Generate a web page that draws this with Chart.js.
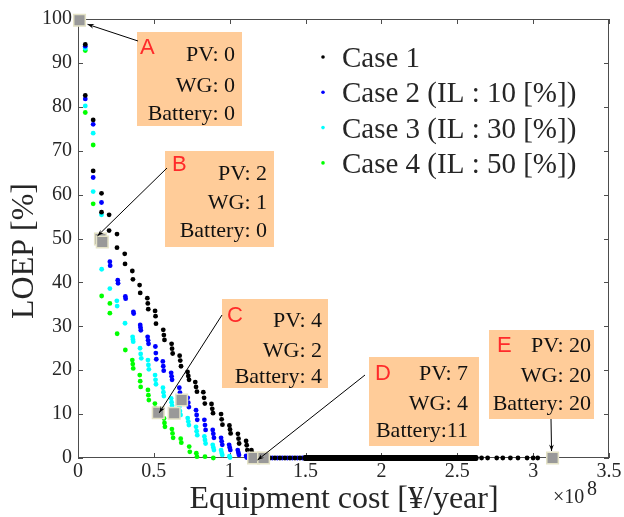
<!DOCTYPE html>
<html>
<head>
<meta charset="utf-8">
<script src="https://cdn.jsdelivr.net/npm/chart.js@4.4.0/dist/chart.umd.min.js"></script>
<style>
  html, body { margin: 0; padding: 0; background: #fff; }
</style>
</head>
<body>
<canvas id="loep-chart" width="624" height="517"></canvas>
<script>
// equipment cost is in units of 1e8 yen/year, LOEP in %
const case1Cost = [0, 0.048, 0.048, 0.100, 0.100, 0.155, 0.155, 0.205, 0.205, 0.257, 0.257, 0.308, 0.310,
  0.358, 0.362, 0.406, 0.410, 0.457, 0.460, 0.463, 0.508, 0.511, 0.514, 0.562, 0.566, 0.570, 0.617, 0.620,
  0.624, 0.670, 0.674, 0.679, 0.722, 0.727, 0.732, 0.773, 0.778, 0.784, 0.826, 0.831, 0.836, 0.880, 0.885,
  0.890, 0.943, 0.947, 0.952, 0.998, 1.002, 1.006, 1.054, 1.058, 1.062, 1.108, 1.112, 1.116, 1.143, 1.147, 1.151];
const case1Loep = [100, 94.2, 82.6, 77.0, 65.4, 60.3, 56.0, 55.4, 51.8, 51.0, 47.9, 46.5, 44.2,
  42.6, 40.7, 39.4, 37.6, 36.4, 35.2, 33.9, 33.5, 32.3, 30.6, 29.2, 28.0, 26.9, 26.0, 24.9,
  23.8, 23.3, 22.2, 20.9, 19.6, 18.7, 17.8, 17.3, 16.2, 15.1, 15.0, 13.7, 12.4, 12.3, 11.2,
  10.2, 10.0, 8.8, 7.6, 7.4, 6.5, 5.6, 5.5, 4.4, 3.3, 3.9, 2.9, 1.8, 1.8, 1.2, 0.6];
// costs of the Case 1 configurations whose LOEP is 0: scattered ones, then the dense run
const case1ZeroCost = [1.175, 1.205, 1.265, 1.298, 1.331, 1.364, 1.397, 1.430, 1.463,
  2.660, 2.700, 2.760, 2.800, 2.850, 2.900, 2.960, 3.000, 3.030];
const case1ZeroDenseCost = [1.50, 1.52, 1.54, 1.56, 1.58, 1.60, 1.62, 1.64, 1.66, 1.68, 1.70, 1.72, 1.74,
  1.76, 1.78, 1.80, 1.82, 1.84, 1.86, 1.88, 1.90, 1.92, 1.94, 1.96, 1.98, 2.00, 2.02, 2.04, 2.06, 2.08,
  2.10, 2.12, 2.14, 2.16, 2.18, 2.20, 2.22, 2.24, 2.26, 2.28, 2.30, 2.32, 2.34, 2.36, 2.38, 2.40, 2.42,
  2.44, 2.46, 2.48, 2.50, 2.52, 2.54, 2.56, 2.58, 2.60, 2.62];

const case2Cost = [0, 0.048, 0.048, 0.100, 0.100, 0.155, 0.210, 0.212, 0.262, 0.264, 0.312, 0.314, 0.365,
  0.367, 0.410, 0.412, 0.414, 0.459, 0.462, 0.465, 0.510, 0.513, 0.516, 0.559, 0.562, 0.565, 0.614, 0.617,
  0.620, 0.668, 0.672, 0.676, 0.723, 0.727, 0.731, 0.778, 0.782, 0.786, 0.833, 0.837, 0.841, 0.888, 0.892,
  0.896, 0.943, 0.947, 0.951, 0.996, 1.000, 1.004, 1.053, 1.057, 1.061, 1.108, 1.112];
const case2Loep = [100, 93.8, 81.8, 76.0, 63.9, 58.2, 44.7, 43.8, 40.5, 39.8, 36.8, 36.3, 33.3,
  32.9, 30.3, 29.7, 29.1, 27.6, 26.8, 26.0, 25.4, 23.9, 22.5, 22.0, 20.9, 19.9, 19.4, 18.6,
  17.8, 16.0, 14.9, 13.9, 13.7, 12.6, 11.6, 10.9, 9.8, 8.7, 8.7, 7.5, 6.4, 6.4, 5.5,
  4.6, 4.6, 3.8, 3.0, 3.0, 2.4, 1.8, 1.8, 1.2, 0.7, 0.5, 0.1];
const case2ZeroCost = [1.165, 1.200, 1.248, 1.281, 1.314, 1.347, 1.380, 1.413, 1.446, 1.479];

const case3Cost = [0, 0.048, 0.048, 0.100, 0.100, 0.155, 0.156, 0.210, 0.256, 0.258, 0.310, 0.360, 0.362,
  0.364, 0.409, 0.413, 0.417, 0.461, 0.464, 0.467, 0.508, 0.511, 0.514, 0.560, 0.563, 0.566, 0.614, 0.617,
  0.620, 0.668, 0.672, 0.676, 0.723, 0.727, 0.731, 0.778, 0.782, 0.786, 0.833, 0.837, 0.841, 0.888, 0.892,
  0.896, 0.943, 0.947, 0.951, 0.998, 1.002];
const case3Loep = [100, 93.3, 80.2, 74.0, 60.7, 55.4, 43.0, 38.6, 35.8, 34.6, 30.7, 27.6, 27.0,
  26.5, 25.0, 23.7, 22.7, 22.3, 21.2, 20.2, 18.9, 17.8, 16.8, 16.0, 15.0, 14.1, 13.6, 12.7,
  11.9, 11.7, 10.7, 9.8, 9.1, 8.3, 7.5, 7.1, 6.1, 5.2, 4.9, 4.1, 3.3, 3.0, 2.4,
  1.8, 1.8, 1.2, 0.7, 0.4, 0.1];

const case4Cost = [0, 0.048, 0.048, 0.100, 0.100, 0.156, 0.210, 0.210, 0.258, 0.312, 0.358, 0.361, 0.364,
  0.407, 0.410, 0.413, 0.461, 0.464, 0.467, 0.507, 0.510, 0.513, 0.567, 0.570, 0.573, 0.619, 0.623, 0.627,
  0.677, 0.681, 0.733, 0.737, 0.780, 0.784, 0.837, 0.892];
const case4Loep = [100, 92.8, 78.7, 71.3, 57.9, 36.9, 35.2, 33.0, 28.3, 24.6, 22.3, 21.4, 20.4,
  18.9, 17.5, 16.2, 15.5, 14.3, 13.2, 12.4, 11.3, 10.2, 9.0, 8.0, 7.1, 6.6, 5.6, 4.6,
  4.4, 3.5, 2.6, 1.4, 1.1, 0.3, 0.3, 0.0];

const seriesLabels = ['Case 1', 'Case 2 (IL : 10 [%])', 'Case 3 (IL : 30 [%])', 'Case 4 (IL : 50 [%])'];

// highlighted configurations (grey squares)
const markerCost = [0.01, 0.148, 0.160, 0.529, 0.634, 0.683, 1.157, 1.223, 3.128];
const markerLoep = [99.7, 49.9, 49.2, 10.3, 10.2, 13.2, 0, 0, 0];

// callouts
const calloutLetters = ['A', 'B', 'C', 'D', 'E'];
const pvLabels = ['PV: 0', 'PV: 2', 'PV: 4', 'PV: 7', 'PV: 20'];
const wgLabels = ['WG: 0', 'WG: 1', 'WG: 2', 'WG: 4', 'WG: 20'];
const batteryLabels = ['Battery: 0', 'Battery: 0', 'Battery: 4', 'Battery:11', 'Battery: 20'];
const calloutMarker = [0, 1, 3, 7, 8];

const costTickLabels = ['0', '0.5', '1', '1.5', '2', '2.5', '3', '3.5'];
const loepTickLabels = ['0', '10', '20', '30', '40', '50', '60', '70', '80', '90', '100'];

// layout of the callout boxes, in pixels
const boxLayout = [
  { x: 137, y: 32, w: 105, h: 94, lx: 140, lb: 54, tr: 235, base: [61, 92, 120], tail: [138, 41], off: [8, 4] },
  { x: 165, y: 151, w: 109, h: 96, lx: 172, lb: 171, tr: 267, base: [180, 209, 237], tail: [167, 168], off: [-3, -3] },
  { x: 222, y: 299, w: 106, h: 89, lx: 227, lb: 322, tr: 322, base: [327, 357, 383], tail: [222, 315], off: [1, 0] },
  { x: 369, y: 357, w: 110, h: 89, lx: 375, lb: 380, tr: 468, base: [380, 410, 437], tail: [365, 375], off: [-6, 2] },
  { x: 489, y: 330, w: 105, h: 89, lx: 497, lb: 352, tr: 591, base: [352, 382, 410], tail: [551, 419], off: [-1, -7] }
];

const SERIF = "'Liberation Serif', 'Times New Roman', serif";
const INK = '#262626';
const AXIS = '#4d4d4d';
const COLORS = ['#000000', '#0000ff', '#00ffff', '#00ff00'];

const points = (xs, ys) => xs.map((x, i) => ({ x: x, y: ys[i] }));
const zeros = (xs) => xs.map((x) => ({ x: x, y: 0 }));

function dotSet(label, data, color, order) {
  return { label: label, data: data, order: order, clip: false, pointStyle: 'circle', pointRadius: 2.4,
    pointBorderWidth: 0, backgroundColor: color, borderColor: color, showLine: false };
}

function drawArrow(ctx, x0, y0, x1, y1) {
  const ang = Math.atan2(y1 - y0, x1 - x0);
  ctx.beginPath();
  ctx.moveTo(x0, y0);
  ctx.lineTo(x1, y1);
  ctx.stroke();
  const len = 7, spread = 0.35;
  ctx.beginPath();
  ctx.moveTo(x1, y1);
  ctx.lineTo(x1 - len * Math.cos(ang - spread), y1 - len * Math.sin(ang - spread));
  ctx.lineTo(x1 - len * 0.6 * Math.cos(ang), y1 - len * 0.6 * Math.sin(ang));
  ctx.lineTo(x1 - len * Math.cos(ang + spread), y1 - len * Math.sin(ang + spread));
  ctx.closePath();
  ctx.fill();
}

const framePlugin = {
  id: 'frame',
  beforeDatasetsDraw(chart) {
    const { ctx, chartArea: a, scales: { x, y } } = chart;
    ctx.save();
    ctx.strokeStyle = AXIS;
    ctx.lineWidth = 1;
    ctx.strokeRect(a.left + 0.5, a.top + 0.5, a.right - a.left - 1, a.bottom - a.top - 1);
    ctx.beginPath();
    x.ticks.forEach((t) => {
      const px = Math.round(x.getPixelForValue(t.value)) + 0.5;
      ctx.moveTo(px, a.bottom); ctx.lineTo(px, a.bottom - 5);
      ctx.moveTo(px, a.top); ctx.lineTo(px, a.top + 5);
    });
    y.ticks.forEach((t) => {
      const py = Math.round(y.getPixelForValue(t.value)) + 0.5;
      ctx.moveTo(a.left, py); ctx.lineTo(a.left + 5, py);
      ctx.moveTo(a.right, py); ctx.lineTo(a.right - 5, py);
    });
    ctx.stroke();
    ctx.restore();
  },
  afterDraw(chart) {
    const { ctx, scales: { x, y } } = chart;
    ctx.save();
    ctx.fillStyle = INK;

    // axis titles
    ctx.font = '32px ' + SERIF;
    ctx.textAlign = 'center';
    ctx.textBaseline = 'alphabetic';
    ctx.fillText('Equipment cost [¥/year]', 344, 508);
    ctx.save();
    ctx.translate(33, 251);
    ctx.rotate(-Math.PI / 2);
    ctx.fillText('LOEP [%]', 0, 0);
    ctx.restore();

    // exponent of the cost axis
    ctx.textAlign = 'left';
    ctx.font = '20px ' + SERIF;
    ctx.fillText('×10', 553, 503);
    ctx.fillText('8', 587, 495);

    // legend
    ctx.font = '29px ' + SERIF;
    seriesLabels.forEach((label, i) => {
      const base = 67 + i * 35.3;
      ctx.fillStyle = COLORS[i];
      ctx.beginPath();
      ctx.arc(323, base - 10, 1.8, 0, Math.PI * 2);
      ctx.fill();
      ctx.fillStyle = INK;
      ctx.fillText(label, 342, base);
    });

    // callout boxes with arrows
    boxLayout.forEach((b, i) => {
      ctx.fillStyle = '#ffcc99';
      ctx.fillRect(b.x, b.y, b.w, b.h);
      ctx.fillStyle = '#ff2a2a';
      ctx.textAlign = 'left';
      ctx.font = '22px "Liberation Sans", Arial, sans-serif';
      ctx.fillText(calloutLetters[i], b.lx, b.lb);
      ctx.fillStyle = '#111';
      ctx.textAlign = 'right';
      ctx.font = '22px ' + SERIF;
      ctx.fillText(pvLabels[i], b.tr, b.base[0]);
      ctx.fillText(wgLabels[i], b.tr, b.base[1]);
      ctx.fillText(batteryLabels[i], b.tr, b.base[2]);

      const m = calloutMarker[i];
      const hx = x.getPixelForValue(markerCost[m]) + b.off[0];
      const hy = y.getPixelForValue(markerLoep[m]) + b.off[1];
      ctx.strokeStyle = '#000';
      ctx.fillStyle = '#000';
      ctx.lineWidth = 1;
      drawArrow(ctx, b.tail[0], b.tail[1], hx, hy);
    });
    ctx.restore();
  }
};

const ctx = document.getElementById('loep-chart').getContext('2d');
new Chart(ctx, {
  type: 'scatter',
  data: {
    datasets: [
      { label: 'Selected', data: points(markerCost, markerLoep), order: 0, clip: false, pointStyle: 'rect',
        pointRadius: 8.2, pointBorderWidth: 1.5, backgroundColor: '#999999', borderColor: '#e4e2c6' },
      dotSet(seriesLabels[0], points(case1Cost, case1Loep).concat(zeros(case1ZeroCost)), COLORS[0], 1),
      // the dense run of zero-LOEP dots merges into a solid bar
      Object.assign(dotSet(seriesLabels[0], zeros(case1ZeroDenseCost), COLORS[0], 1),
        { showLine: true, borderWidth: 6, borderCapStyle: 'round', pointRadius: 3 }),
      dotSet(seriesLabels[1], points(case2Cost, case2Loep).concat(zeros(case2ZeroCost)), COLORS[1], 2),
      dotSet(seriesLabels[2], points(case3Cost, case3Loep), COLORS[2], 3),
      dotSet(seriesLabels[3], points(case4Cost, case4Loep), COLORS[3], 4)
    ]
  },
  options: {
    responsive: false,
    animation: false,
    layout: { padding: { top: 19, right: 15, left: 0, bottom: 0 } },
    plugins: { legend: { display: false }, tooltip: { enabled: false } },
    scales: {
      x: {
        type: 'linear', min: 0, max: 3.5,
        grid: { display: false, drawTicks: false },
        border: { display: false },
        ticks: { stepSize: 0.5, padding: 2, color: INK, font: { family: SERIF, size: 20 },
          maxRotation: 0, callback: (v, i) => costTickLabels[i] },
        afterFit: (s) => { s.height = 59; }
      },
      y: {
        min: 0, max: 100,
        grid: { display: false, drawTicks: false },
        border: { display: false },
        ticks: { stepSize: 10, padding: 6, color: INK, font: { family: SERIF, size: 20 },
          callback: (v, i) => loepTickLabels[i] },
        afterFit: (s) => { s.width = 78; }
      }
    }
  },
  plugins: [framePlugin]
});
</script>
</body>
</html>
